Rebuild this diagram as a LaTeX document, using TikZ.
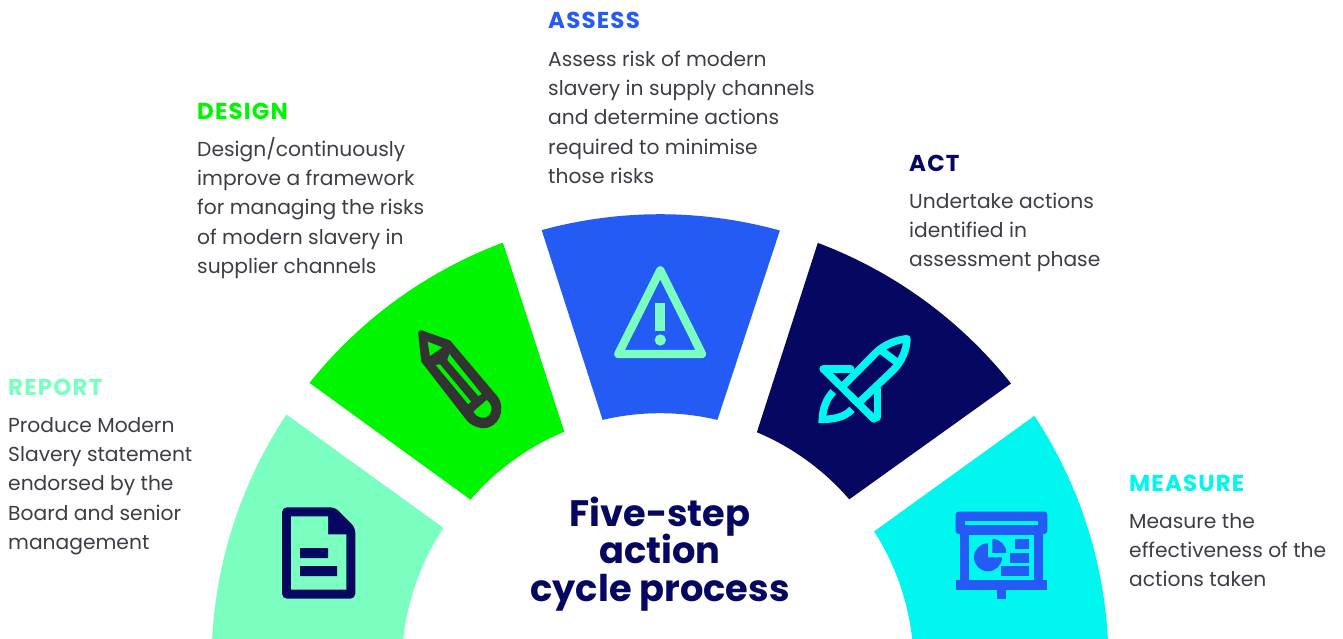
\documentclass[tikz,border=0pt]{standalone}
\usepackage{fontspec}
\setmainfont{Poppins}
\lineskiplimit=-30pt
\definecolor{cmint}{HTML}{7AFFC0}
\definecolor{cgreen}{HTML}{00F500}
\definecolor{cblue}{HTML}{245BF5}
\definecolor{cnavy}{HTML}{050761}
\definecolor{ccyan}{HTML}{00F7F0}
\definecolor{cgrey}{HTML}{333333}
\definecolor{ctext}{HTML}{3D3D45}
\newcommand{\sectorpath}[6]{% a1 a2 R, a3 a4 r
  (#1:#3pt) arc[start angle=#1,end angle=#2,radius=#3pt] -- (#4:#6pt) arc[start angle=#4,end angle=#5,radius=#6pt] -- cycle}
\tikzset{
  para/.style={anchor=north west,inner sep=0pt,align=left,text=ctext,font=\fontsize{20.25}{29.3}\selectfont},
  head/.style={anchor=base west,inner sep=0pt,font=\fontsize{23}{26}\selectfont\bfseries\addfontfeatures{LetterSpace=5}},
  ttl/.style={anchor=north,inner sep=0pt,align=center,text=cnavy,font=\fontsize{36.8}{37.5}\selectfont\bfseries},
}
\begin{document}
\begin{tikzpicture}[x=1pt,y=1pt]
\useasboundingbox (0,0) rectangle (1343,638);
\clip (0,0) rectangle (1343,638);
% sectors
\begin{scope}[shift={(660pt,-24.7pt)}]
\fill[cmint] (146.4:448.5pt) arc[start angle=146.4,end angle=179,radius=448.5pt]
  -- ([shift={(-7.3pt,-3.7pt)}]179:251pt) arc[start angle=179,end angle=146.5,radius=251pt] -- cycle;
\fill[cgreen] \sectorpath{141.4}{110.5}{448.5}{112.5}{139.3}{250};
\fill[cblue] \sectorpath{105.3}{74.5}{448.5}{76.7}{103.3}{249.5};
\fill[cnavy] \sectorpath{69.4}{38.5}{448.5}{40.8}{67.2}{250};
\fill[ccyan] (33.4:448.5pt) arc[start angle=33.4,end angle=1,radius=448.5pt]
  -- ([shift={(2.7pt,-3.9pt)}]1:251pt) arc[start angle=1,end angle=32.6,radius=251pt] -- cycle;
\end{scope}
% report icon
\begin{scope}[x=1pt,y=-1pt,shift={(0,-638)}]
\fill[cnavy,rounded corners=5pt] (282,507.3) -- (335,507.3) -- (355.3,527.7) -- (355.3,598.7) -- (282,598.7) -- cycle;
\fill[cmint] (291,516.3) -- (328,516.3) -- (328,534.3) -- (346.3,534.3) -- (346.3,589.7) -- (291,589.7) -- cycle;
\fill[cnavy] (300,548) rectangle (328,558) (300,566) rectangle (337,576);
\end{scope}
% pencil icon (zoom coordinates)
\begin{scope}[x=0.3333pt,y=-0.3333pt,shift={(390pt,388pt)}]
\path[fill=cgrey,draw=cgrey,line width=5pt,line join=round]
  (92,248) -- (176,278) -- (318,446) .. controls (338,475) and (322,528) .. (278,527)
  .. controls (262,526) and (245,518) .. (235,505) -- (101,332) -- cycle;
\fill[cgreen] (113,275) -- (157,292) -- (120,318) -- cycle;
\fill[cgreen] (178,312) -- (275,432) -- (265,438) -- (172,330) -- cycle;
\fill[cgreen] (137,345) -- (150,343) -- (243,455) -- (235,463) -- cycle;
\fill[cgreen] (250,485) -- (290,450) .. controls (305,462) and (310,478) .. (298,495) .. controls (285,510) and (262,505) .. (250,485) -- cycle;
\end{scope}
% warning icon
\begin{scope}[x=0.3333pt,y=-0.3333pt,shift={(390pt,388pt)}]
\draw[cmint,line width=8.3pt,line join=round] (811,61) -- (936,312) -- (685,312) -- cycle;
\fill[cmint] (795,158) rectangle (825,243);
\fill[cmint] (811,270) circle[radius=17];
\end{scope}
% rocket icon
\begin{scope}[x=0.3333pt,y=-0.3333pt,shift={(790pt,318pt)}]
\begin{scope}[ccyan,line width=7.5pt,line join=round,line cap=round]
\draw (100,147) -- (252,297);
\draw (100,147) -- (182,147);
\draw (262,207) -- (262,292);
\draw (162,195) -- (258,98) .. controls (285,72) and (320,60) .. (351,56) .. controls (350,90) and (335,125) .. (310,150) -- (210,245);
\draw[line cap=butt] (272,90) -- (325,130);
\end{scope}
\draw[ccyan,line width=7.5pt,line join=miter] (130,215) .. controls (110,235) and (98,265) .. (97,298) .. controls (130,298) and (165,292) .. (186,268);
\end{scope}
% presentation icon
\begin{scope}[x=0.3333pt,y=-0.3333pt,shift={(790pt,318pt)}]
\fill[cblue,rounded corners=3pt] (497,575) rectangle (772,642);
\fill[ccyan] (525,603) rectangle (745,615);
\fill[cblue] (511,642) rectangle (760,790);
\fill[ccyan] (538,645) rectangle (733,781);
\fill[cblue] (497,781) rectangle (772,809);
\fill[cblue] (621,809) rectangle (648,836);
\fill[cblue] (594,712) -- (594,670) arc[start angle=270,end angle=0,radius=42] -- cycle;
\fill[cblue] (607,699) -- (607,657) arc[start angle=270,end angle=360,radius=42] -- cycle;
\fill[cblue] (675,657) rectangle (717,687);
\fill[cblue] (660,699) rectangle (717,729);
\fill[cblue] (633,738) rectangle (717,768);
\end{scope}
% texts
\begin{scope}[x=1pt,y=-1pt,shift={(0,-638)}]
\node[head,text=cmint] (reporthead) at (8,395) {REPORT};
\node[para] (reporttext) at (8,412) {\rule{0pt}{20pt}Produce Modern\\Slavery statement\\endorsed by the\\Board and senior\\management};
\node[head,text=cgreen] (designhead) at (197,119.5) {DESIGN};
\node[para] (designtext) at (197,136) {\rule{0pt}{20pt}Design/continuously\\improve a framework\\for managing the risks\\of modern slavery in\\supplier channels};
\node[head,text=cblue] (assesshead) at (548,28.5) {ASSESS};
\node[para] (assesstext) at (548,46) {\rule{0pt}{20pt}Assess risk of modern\\slavery in supply channels\\and determine actions\\required to minimise\\those risks};
\node[head,text=cnavy] (acthead) at (909,171.5) {ACT};
\node[para] (acttext) at (909,188) {\rule{0pt}{20pt}Undertake actions\\identified in\\assessment phase};
\node[head,text=ccyan] (measurehead) at (1129,491) {MEASURE};
\node[para] (measuretext) at (1129,508) {\rule{0pt}{20pt}Measure the\\effectiveness of the\\actions taken};
\node[ttl] (title) at (660,489) {\rule{0pt}{37pt}Five-step\\action\\cycle process};
\end{scope}
\end{tikzpicture}
\end{document}
